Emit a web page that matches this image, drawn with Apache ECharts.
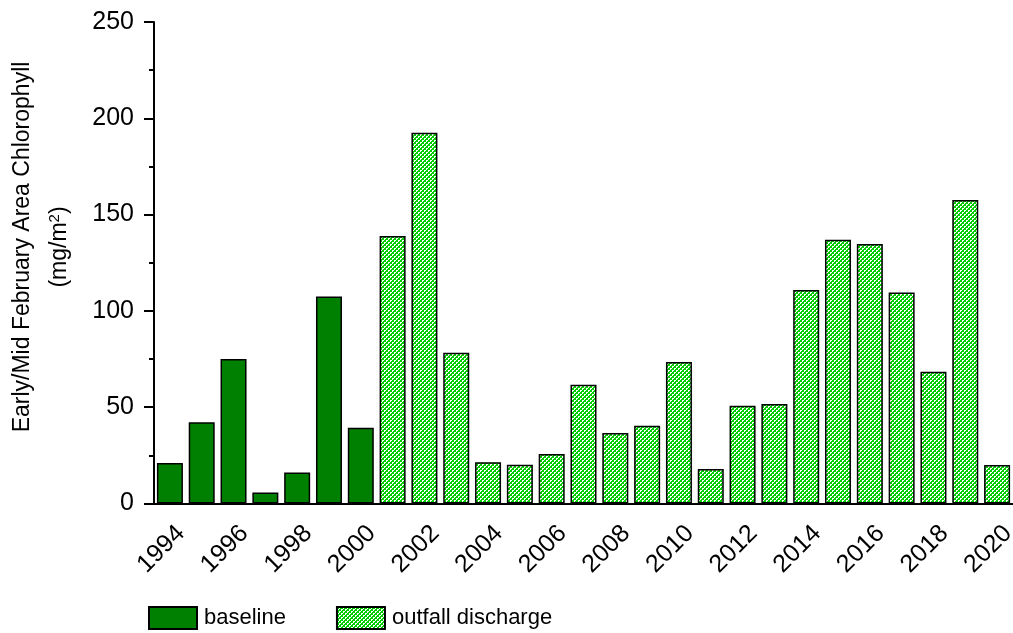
<!DOCTYPE html>
<html>
<head>
<meta charset="utf-8">
<script src="https://cdn.jsdelivr.net/npm/echarts@6/dist/echarts.min.js"></script>
<style>
  html, body { margin: 0; padding: 0; background: #fff; }
  #chart { width: 1013px; height: 633px; }
</style>
</head>
<body>
<div id="chart"></div>
<script>
// Survey years
const years = ['1994','1995','1996','1997','1998','1999','2000','2001','2002','2003','2004','2005','2006','2007',
  '2008','2009','2010','2011','2012','2013','2014','2015','2016','2017','2018','2019','2020'];
// Early/mid February area chlorophyll (mg/m2), before the outfall discharge began
const baseline = [21, 42.2, 75, 5.7, 16.1, 107.5, 39.3, null, null, null, null, null, null, null,
  null, null, null, null, null, null, null, null, null, null, null, null, null];
// Same measure after the outfall discharge began
const outfall = [null, null, null, null, null, null, null, 138.9, 192.5, 78.3, 21.4, 20.1, 25.7, 61.7,
  36.6, 40.4, 73.5, 17.9, 50.8, 51.7, 110.9, 137, 134.7, 109.5, 68.4, 157.6, 20];
const seriesNames = ['baseline', 'outfall discharge'];
const yTicks = { min: 0, max: 250, step: 50 };

const FONT = '"Liberation Sans", Arial, sans-serif';

// Small checker tile for the hatched bars
function checkerPattern() {
  const c = document.createElement('canvas');
  c.width = 4; c.height = 4;
  const g = c.getContext('2d');
  g.fillStyle = '#ffffff';
  g.fillRect(0, 0, 4, 4);
  g.fillStyle = '#00cc00';
  g.fillRect(0, 0, 2, 2);
  g.fillRect(2, 2, 2, 2);
  g.fillRect(3, 1, 1, 1);
  g.fillRect(1, 3, 1, 1);
  return c;
}

const chart = echarts.init(document.getElementById('chart'), null, { renderer: 'canvas' });

const option = {
  animation: false,
  backgroundColor: '#ffffff',
  textStyle: { fontFamily: FONT, color: '#000' },
  grid: { left: 154, right: 0, top: 22, bottom: 129.5, containLabel: false, outerBoundsMode: 'none' },
  legend: {
    data: seriesNames,
    left: 148, top: 606, padding: 0,
    itemWidth: 48, itemHeight: 22, itemGap: 50,
    textStyle: { fontFamily: FONT, fontSize: 22, color: '#000', padding: [0, 0, 0, 2] },
    icon: 'rect',
    selectedMode: false
  },
  xAxis: [
    {
      type: 'category',
      data: years,
      boundaryGap: true,
      axisLine: { lineStyle: { color: '#000', width: 2 } },
      axisTick: { alignWithLabel: true, interval: 1, length: 12, lineStyle: { color: '#000', width: 2 } },
      axisLabel: {
        interval: 1, rotate: 45, margin: 15, fontSize: 25, color: '#000', fontFamily: FONT,
        verticalAlign: 'top', lineHeight: 31
      }
    },
    {
      type: 'category',
      data: years,
      position: 'bottom',
      boundaryGap: true,
      axisLine: { show: false },
      axisTick: { alignWithLabel: true, interval: 0, length: 6, lineStyle: { color: '#000', width: 2 } },
      axisLabel: { show: false }
    }
  ],
  yAxis: {
    type: 'value',
    min: yTicks.min, max: yTicks.max, interval: yTicks.step,
    axisLine: { show: true, lineStyle: { color: '#000', width: 2 } },
    axisTick: { show: true, length: 10, lineStyle: { color: '#000', width: 2 } },
    minorTick: { show: true, splitNumber: 2, length: 5, lineStyle: { color: '#000', width: 2 } },
    splitLine: { show: false },
    axisLabel: { fontSize: 25, color: '#000', margin: 20, fontFamily: FONT }
  },
  graphic: [
    {
      type: 'text', x: 23, y: 247, rotation: Math.PI / 2,
      style: {
        text: 'Early/Mid February Area Chlorophyll',
        font: '23px ' + FONT, fill: '#000', align: 'center', verticalAlign: 'middle'
      }
    },
    {
      type: 'text', x: 60, y: 247, rotation: Math.PI / 2,
      style: {
        text: '(mg/m{sup|2})',
        font: '23px ' + FONT, fill: '#000', align: 'center', verticalAlign: 'middle',
        rich: { sup: { fontSize: 15, verticalAlign: 'top', padding: [0, 0, 10, 0], fontFamily: FONT } }
      }
    }
  ],
  series: [
    {
      name: seriesNames[0], type: 'bar', data: baseline,
      barWidth: 26, barGap: '-100%',
      itemStyle: { color: '#008000', borderColor: '#000', borderWidth: 1.5 }
    },
    {
      name: seriesNames[1], type: 'bar', data: outfall,
      barWidth: 26, barGap: '-100%',
      itemStyle: { color: { image: checkerPattern(), repeat: 'repeat' }, borderColor: '#000', borderWidth: 1.5 }
    }
  ]
};

chart.setOption(option);
</script>
</body>
</html>
